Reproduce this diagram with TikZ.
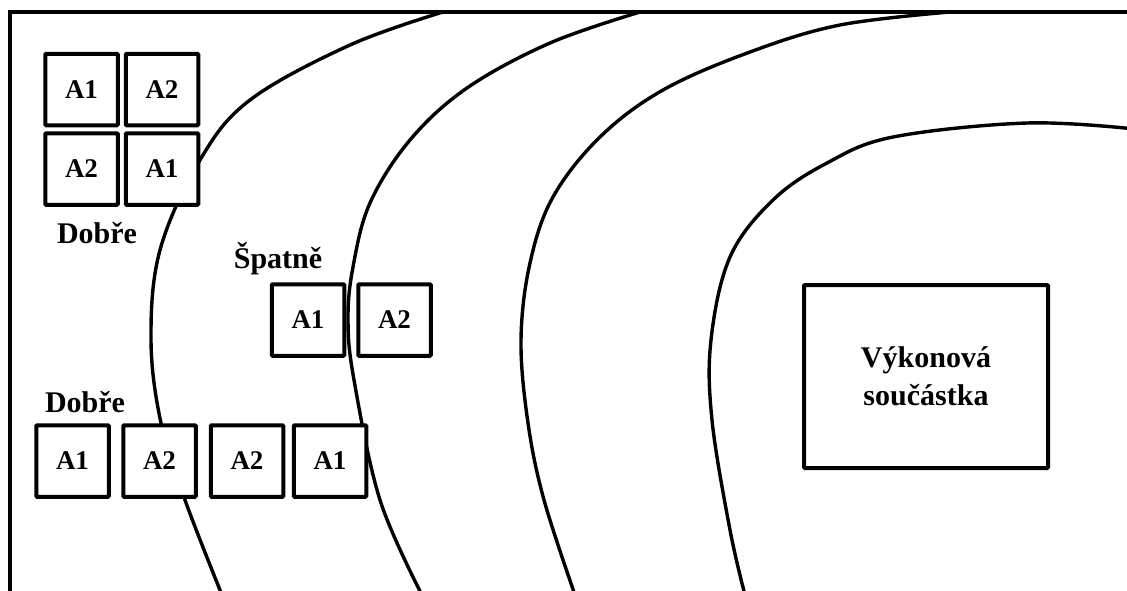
\documentclass[tikz,border=0pt]{standalone}
\usepackage{fontspec}
\setmainfont{Liberation Serif}
\begin{document}
\begin{tikzpicture}[x=1pt,y=-1pt,
  cell/.style={draw,fill=white,line width=4pt,rounded corners=1pt,minimum width=72.5pt,minimum height=71.5pt,inner sep=0pt,font=\bfseries\fontsize{27}{32}\selectfont},
  lbl/.style={anchor=base,inner sep=0pt,font=\bfseries\fontsize{30}{36}\selectfont},
  contour/.style={line width=3.4pt,smooth,tension=0.6},
  powerbox/.style={draw,fill=white,line width=4pt,rounded corners=1pt,minimum width=244pt,minimum height=183pt,align=center,inner sep=0pt,font=\bfseries\fontsize{30}{37.5}\selectfont}]
\useasboundingbox (0,0) rectangle (1127,590);
\clip (0,0) rectangle (1127,590);
% frame
\draw[line width=3.3pt] (10,600) -- (10,12) -- (1140,12);
% contour lines
\draw[contour] plot coordinates {(443,12) (350,45) (250,100) (200,160) (160,250) (151,340) (161,423) (185,500) (222,595)};
\draw[contour] plot coordinates {(640,12) (550,43) (467,88) (410,140) (370,203) (353,267) (348,320) (354,380) (380,500) (422,595)};
\draw[contour] plot coordinates {(950,12) (840,25) (750,52) (663,90) (600,137) (553,197) (530,263) (521,340) (528,423) (544,500) (575,595)};
\draw[contour] plot coordinates {(1135,129) (1027,123) (893,137) (827,163) (773,200) (730,257) (711,340) (712,420) (730,530) (745,595)};
% top-left group
\node[cell] (a11) at (81.5,89.5) {A1};
\node[cell] (a12) at (162,89.5) {A2};
\node[cell] (a21) at (81.5,169) {A2};
\node[cell] (a22) at (162,169) {A1};
\node[lbl] (dobre1) at (97,243) {Dobře};
% middle group
\node[lbl] (spatne) at (278,268) {Špatně};
\node[cell] (s1) at (308,320) {A1};
\node[cell] (s2) at (394.5,320) {A2};
% bottom group
\node[lbl] (dobre2) at (85,412) {Dobře};
\node[cell] (b1) at (72.5,461) {A1};
\node[cell] (b2) at (159.5,461) {A2};
\node[cell] (b3) at (247,461) {A2};
\node[cell] (b4) at (330,461) {A1};
% power component
\node[powerbox] (power) at (926,376.5) {Výkonová\\součástka};
\end{tikzpicture}
\end{document}
